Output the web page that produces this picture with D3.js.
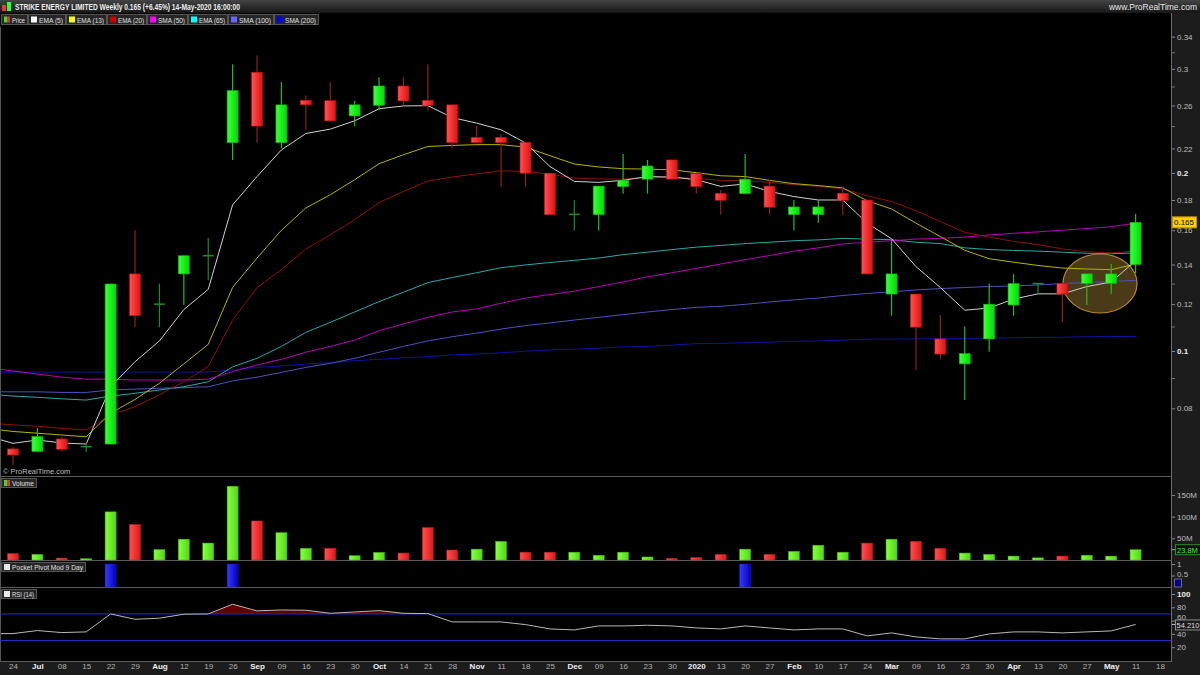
<!DOCTYPE html>
<html><head><meta charset="utf-8">
<script src="https://cdn.jsdelivr.net/npm/d3@7"></script>
<style>body{margin:0;background:#000;} svg{display:block;font-family:"Liberation Sans",Arial,sans-serif;}</style>
</head><body><svg id="c" width="1200" height="675"></svg>
<script>
// ---------------- DATA ----------------
const weekLabels = ["24","Jul","08","15","22","29","Aug","12","19","26","Sep","09","16","23","30","Oct","14","21","28","Nov","11","18","25","Dec","09","16","23","30","2020","13","20","27","Feb","10","17","24","Mar","09","16","23","30","Apr","13","20","27","May","11","18"];
const monthLabels = ["Jul","Aug","Sep","Oct","Nov","Dec","2020","Feb","Mar","Apr","May"];
const openP  = [0.0683,0.0676,0.0710,0.0689,0.0696,0.135,0.120,0.135,0.1449,0.225,0.296,0.225,0.2654,0.2650,0.2497,0.2603,0.2806,0.2654,0.2607,0.2298,0.2298,0.2254,0.1998,0.1702,0.170,0.1896,0.1952,0.2104,0.1995,0.1848,0.1845,0.190,0.170,0.170,0.1848,0.180,0.1248,0.1248,0.1048,0.0951,0.1048,0.1196,0.130,0.130,0.130,0.130,0.140];
const highP  = [0.0689,0.0741,0.0716,0.0699,0.130,0.160,0.130,0.145,0.1553,0.3054,0.3158,0.285,0.2703,0.285,0.265,0.2903,0.2903,0.3054,0.2607,0.240,0.2325,0.2254,0.1998,0.180,0.190,0.2154,0.2104,0.2104,0.1995,0.1872,0.2154,0.1946,0.180,0.180,0.190,0.180,0.154,0.1248,0.115,0.110,0.130,0.135,0.130,0.130,0.135,0.1403,0.1705];
const lowP   = [0.0642,0.0676,0.0676,0.0675,0.0696,0.1097,0.1097,0.1196,0.1318,0.2104,0.225,0.2202,0.2365,0.2449,0.240,0.2556,0.2603,0.2549,0.2202,0.225,0.1896,0.1896,0.170,0.1598,0.1598,0.1845,0.1845,0.1952,0.1845,0.170,0.1845,0.170,0.1598,0.1648,0.170,0.135,0.1147,0.0929,0.0968,0.0826,0.0997,0.1147,0.1248,0.1117,0.1196,0.1248,0.1353];
const closeP = [0.0667,0.0717,0.0682,0.0689,0.1298,0.1147,0.120,0.1449,0.1449,0.2756,0.240,0.2607,0.2607,0.2449,0.2607,0.2806,0.2647,0.2603,0.225,0.225,0.225,0.1998,0.170,0.1702,0.190,0.1944,0.2055,0.1952,0.1896,0.1798,0.1952,0.175,0.1752,0.1752,0.1798,0.135,0.135,0.1097,0.0988,0.099,0.120,0.130,0.130,0.1248,0.135,0.135,0.165];
const volumeM = [15,13,4.5,3,111,82,24,48,39,170,90,63,27,27,10,17.5,16,75,23,25,43,18,18,18,11,18,7,4,6,13,25,13,20,34,18,39,48,43,27,16,13,9,5,9,11,9,23.8];
const pocketPivot = [0,0,0,0,1,0,0,0,0,1,0,0,0,0,0,0,0,0,0,0,0,0,0,0,0,0,0,0,0,0,1,0,0,0,0,0,0,0,0,0,0,0,0,0,0,0,0];
const rsi14 = [40.5,45,42,43,70,62,63.6,69.6,70,84.6,74.6,76,75.6,71,73,75,71,70.5,58,58,58,54,47.5,46,52,52,53,52,49,47.5,52,49,46,47.5,47.5,37,41.5,35.5,32.5,32.5,40,43,43,41.5,43,44.5,54.21];
const rsiPrior = 40.3;
const ema5   = [0.0698,0.0707,0.0699,0.0696,0.0870,0.0959,0.1040,0.1175,0.1271,0.1767,0.1972,0.2188,0.2332,0.2372,0.245,0.2568,0.2596,0.2599,0.2481,0.2428,0.2366,0.2248,0.2051,0.1935,0.1928,0.1943,0.1972,0.1968,0.1948,0.1898,0.1916,0.1861,0.1824,0.18,0.18,0.1645,0.1548,0.1389,0.128,0.1172,0.1182,0.1224,0.1249,0.1249,0.1285,0.1308,0.1421];
const ema13  = [0.0731,0.0726,0.0721,0.0716,0.0785,0.0828,0.0882,0.0951,0.1026,0.1281,0.1436,0.16,0.1745,0.1837,0.1948,0.2073,0.2147,0.2217,0.2226,0.2233,0.2233,0.2211,0.2139,0.2071,0.2047,0.2033,0.203,0.2024,0.2002,0.1978,0.1972,0.1943,0.1918,0.1904,0.1887,0.1795,0.1738,0.1645,0.1561,0.148,0.1432,0.1413,0.1395,0.1381,0.1376,0.1372,0.1403];
const ema20  = [0.075,0.0746,0.074,0.0735,0.0779,0.0805,0.0843,0.0887,0.0941,0.1128,0.128,0.1373,0.1488,0.1572,0.1667,0.1782,0.1861,0.1938,0.1968,0.1993,0.2016,0.2011,0.199,0.1961,0.1953,0.1953,0.1965,0.1965,0.1958,0.1943,0.1941,0.1928,0.1911,0.1898,0.1879,0.183,0.1789,0.1727,0.1655,0.1587,0.1558,0.1532,0.1513,0.1488,0.1471,0.1465,0.1475];
const sma50  = [0.0925,0.0914,0.0903,0.0896,0.0896,0.0893,0.0893,0.0893,0.0896,0.0923,0.0947,0.0968,0.0995,0.1018,0.1043,0.1082,0.1111,0.114,0.1164,0.1178,0.1204,0.1229,0.1246,0.1262,0.1285,0.1308,0.1335,0.1356,0.1379,0.1403,0.1427,0.145,0.1475,0.1494,0.1517,0.1527,0.1536,0.1546,0.155,0.1558,0.1571,0.1581,0.159,0.16,0.1611,0.1622,0.1645];
const ema65  = [0.0839,0.0835,0.083,0.0826,0.0839,0.0848,0.0859,0.087,0.0887,0.094,0.0972,0.1018,0.1075,0.1118,0.1164,0.1212,0.1257,0.1305,0.1331,0.1356,0.1383,0.1398,0.1411,0.1423,0.1436,0.1455,0.1469,0.1484,0.1498,0.1508,0.1519,0.1527,0.1536,0.1541,0.155,0.1546,0.1542,0.1527,0.1519,0.1494,0.1484,0.1479,0.1475,0.1469,0.1463,0.146,0.1465];
const sma100 = [0.0853,0.0853,0.0851,0.0851,0.0859,0.0862,0.0865,0.0867,0.087,0.089,0.0903,0.092,0.0938,0.0953,0.0972,0.0995,0.1018,0.104,0.1057,0.1072,0.1089,0.1104,0.1115,0.1128,0.114,0.1152,0.1164,0.1175,0.1185,0.119,0.1199,0.121,0.122,0.1229,0.1241,0.1251,0.1259,0.1268,0.1275,0.128,0.1285,0.1288,0.1293,0.13,0.1305,0.1311,0.1316];
const sma200 = [0.0921,0.0921,0.0921,0.0921,0.0921,0.0921,0.0921,0.0921,0.0921,0.0929,0.0938,0.0943,0.0951,0.0955,0.0963,0.0968,0.0974,0.0978,0.0985,0.0988,0.0993,0.0999,0.1004,0.1007,0.1011,0.1016,0.1018,0.1023,0.1029,0.103,0.1033,0.1035,0.1038,0.104,0.1043,0.1047,0.1047,0.1048,0.105,0.105,0.1051,0.1053,0.1054,0.1055,0.1057,0.1058,0.1058];
// values of each average for the week before the first candle (17 Jun 2019), partly off-screen at left
const maPrior = {"EMA (5)":0.0717,"EMA (13)":0.0739,"EMA (20)":0.0755,"SMA (50)":0.0937,"EMA (65)":0.0845,"SMA (100)":0.0853,"SMA (200)":0.0921};
const priceTicks = [0.08,0.1,0.12,0.14,0.16,0.18,0.2,0.22,0.26,0.3,0.34];
const priceMinor = [0.09,0.11,0.13,0.24,0.28,0.32];
const volTicks = [50,100,150];
const rsiTicks = [20,40,60,80,100];
const ppTicks = [0.5,1];
const legendItems = [
  {name:"EMA (5)", color:"#ffffff", line:"#d0d0d0", data:ema5},
  {name:"EMA (13)", color:"#ffff00", line:"#b4b400", data:ema13},
  {name:"EMA (20)", color:"#cc0000", line:"#8e1010", data:ema20},
  {name:"SMA (50)", color:"#ff00ff", line:"#b800b8", data:sma50},
  {name:"EMA (65)", color:"#00ffff", line:"#2aa8a8", data:ema65},
  {name:"SMA (100)", color:"#6666ff", line:"#5050c0", data:sma100},
  {name:"SMA (200)", color:"#0000ff", line:"#1010a8", data:sma200}
];
const titleText = "STRIKE ENERGY LIMITED Weekly 0.165 (+6.45%) 14-May-2020 16:00:00";

// ---------------- LAYOUT ----------------
const W = 1200, H = 675, plotR = 1171;
const svg = d3.select("#c");
const defs = svg.append("defs");
function grad(id, c1, c2, vertical) {
  const g = defs.append("linearGradient").attr("id", id)
    .attr("x1",0).attr("y1",0).attr("x2",vertical?0:1).attr("y2",vertical?1:0);
  g.append("stop").attr("offset","0%").attr("stop-color",c1);
  g.append("stop").attr("offset","100%").attr("stop-color",c2);
}
grad("gUp","#3dff3d","#00dc00");
grad("gDn","#ff5252","#e01010");
grad("vUp","#86ff44","#52d814");
grad("vDn","#ff5050","#dd1818");
grad("pp","#3a3aff","#0000c0");
grad("title","#444444","#161616",true);
grad("rsiFill","#7a0000","#200000",true);
defs.append("clipPath").attr("id","mainClip").append("rect").attr("x",1).attr("y",27).attr("width",plotR-1).attr("height",449);
defs.append("clipPath").attr("id","rsiClip").append("rect").attr("x",1).attr("y",588).attr("width",plotR-1).attr("height",73);

svg.append("rect").attr("width",W).attr("height",H).attr("fill","#000");

const n = closeP.length;
const idx = d3.range(n);
const x = d3.scaleLinear().domain([0, weekLabels.length - 1]).range([13, 1160]);
const y = d3.scaleLog().domain([0.0617, 0.353]).range([475, 27]);
const yV = d3.scaleLinear().domain([0, 189]).range([560, 478]);
const yP = d3.scaleLinear().domain([0, 1]).range([587, 564]);
const yR = d3.scaleLinear().domain([0, 100]).range([660.5, 594]);

// title bar
svg.append("rect").attr("x",0).attr("y",0).attr("width",W).attr("height",13).attr("fill","url(#title)");
svg.append("rect").attr("x",2).attr("y",5).attr("width",4).attr("height",6).attr("fill","#ff3030");
svg.append("rect").attr("x",7).attr("y",2).attr("width",4).attr("height",9).attr("fill","#30ff30");
svg.append("text").attr("x",15).attr("y",10).attr("fill","#eeeeee").attr("font-size",8.5).attr("font-weight","bold")
  .attr("textLength",225).attr("lengthAdjust","spacingAndGlyphs").text(titleText);
svg.append("text").attr("x",1197).attr("y",10).attr("fill","#e6e6e6").attr("font-size",8.5).attr("text-anchor","end")
  .text("www.ProRealTime.com");

// right axis strip & bottom strip
svg.append("rect").attr("x",plotR).attr("y",13).attr("width",W-plotR).attr("height",H-13).attr("fill","#1c1c1c");
svg.append("rect").attr("x",0).attr("y",662).attr("width",W).attr("height",13).attr("fill","#1c1c1c");
svg.append("line").attr("x1",plotR+0.5).attr("x2",plotR+0.5).attr("y1",13).attr("y2",662).attr("stroke","#6a6a6a");
svg.append("line").attr("x1",0.5).attr("x2",0.5).attr("y1",27).attr("y2",662).attr("stroke","#555");
[476.5, 560.5, 587.5, 661.5].forEach(v => svg.append("line").attr("x1",0).attr("x2",plotR).attr("y1",v).attr("y2",v).attr("stroke","#5a5a5a"));

// legend row
let lx = 1;
const legAll = [{name:"Price", color:null}].concat(legendItems);
const legendW = [26,37,40,39,40,39,45,44];
legAll.forEach((d,i) => {
  const g = svg.append("g").attr("transform",`translate(${lx},14)`);
  g.append("rect").attr("x",0.5).attr("y",0.5).attr("width",legendW[i]).attr("height",10).attr("fill","#262626").attr("stroke","#555");
  if (d.color) g.append("rect").attr("x",3).attr("y",2.5).attr("width",6).attr("height",6).attr("fill",d.color);
  else { g.append("rect").attr("x",3).attr("y",2.5).attr("width",3).attr("height",6).attr("fill","#30e030");
         g.append("rect").attr("x",6).attr("y",2.5).attr("width",3).attr("height",6).attr("fill","#e03030"); }
  g.append("text").attr("x",11).attr("y",8.5).attr("fill","#e0e0e0").attr("font-size",7.5)
    .attr("textLength",legendW[i]-13).attr("lengthAdjust","spacingAndGlyphs").text(d.name);
  lx += legendW[i] + 1;
});

// highlight ellipse (behind)
svg.append("ellipse").attr("cx",1100).attr("cy",283.5).attr("rx",37).attr("ry",29.5)
  .attr("fill","#4a3a18").attr("stroke","#b9862c").attr("stroke-width",1.2);

// moving averages
const maG = svg.append("g").attr("clip-path","url(#mainClip)");
legendItems.slice().reverse().forEach(d => {
  const pts = [[-1, maPrior[d.name]]].concat(idx.map(i => [i, d.data[i]]));
  maG.append("path").datum(pts).attr("fill","none").attr("stroke",d.line).attr("stroke-width",1)
    .attr("d", d3.line().x(p => x(p[0])).y(p => y(p[1])));
});

// candles
const bw = 11;
idx.forEach(i => {
  const o = openP[i], c = closeP[i], h = highP[i], l = lowP[i];
  const up = c >= o, doji = Math.abs(y(o) - y(c)) < 1;
  const wick = doji ? "#1e8c1e" : (up ? "#2ab82a" : "#8a2222");
  svg.append("line").attr("x1",x(i)).attr("x2",x(i)).attr("y1",y(h)).attr("y2",y(l)).attr("stroke",wick).attr("stroke-width",1.2);
  if (doji) {
    svg.append("line").attr("x1",x(i)-bw/2).attr("x2",x(i)+bw/2).attr("y1",y(c)).attr("y2",y(c)).attr("stroke",wick).attr("stroke-width",1.5);
  } else {
    svg.append("rect").attr("x",x(i)-bw/2).attr("y",y(Math.max(o,c))).attr("width",bw)
      .attr("height",Math.abs(y(o)-y(c))).attr("fill",up?"url(#gUp)":"url(#gDn)")
      .attr("stroke",up?"#10b010":"#b81010").attr("stroke-width",0.6);
  }
});
svg.append("text").attr("x",3).attr("y",474).attr("fill","#bbbbbb").attr("font-size",7.5).text("© ProRealTime.com");

// price axis
const pa = svg.append("g").attr("transform",`translate(${plotR+1},0)`)
  .call(d3.axisRight(y).tickValues(priceTicks).tickSize(3).tickFormat(d => String(d)));
pa.select(".domain").remove();
pa.selectAll("line").attr("stroke","#888");
pa.selectAll("text").attr("font-size",8).attr("x",5)
  .attr("font-weight", d => (d===0.2||d===0.1)?"bold":"normal").attr("fill", d => (d===0.2||d===0.1)?"#eeeeee":"#bdbdbd");
const pm = svg.append("g").attr("transform",`translate(${plotR+1},0)`)
  .call(d3.axisRight(y).tickValues(priceMinor).tickSize(3).tickFormat(""));
pm.select(".domain").remove(); pm.selectAll("line").attr("stroke","#777");
// last price label
const lp = closeP[n-1];
svg.append("rect").attr("x",plotR+1.5).attr("y",y(lp)-5.5).attr("width",24).attr("height",11).attr("fill","#ffd000").attr("stroke","#c09000");
svg.append("text").attr("x",plotR+3).attr("y",y(lp)+3).attr("font-size",8).attr("fill","#000").text(lp.toFixed(3));

// volume: green when the close is not below the previous close
idx.forEach(i => {
  const up = i === 0 ? closeP[i] >= openP[i] : closeP[i] >= closeP[i-1];
  svg.append("rect").attr("x",x(i)-bw/2).attr("y",yV(volumeM[i])).attr("width",bw).attr("height",yV(0)-yV(volumeM[i]))
    .attr("fill",up?"url(#vUp)":"url(#vDn)").attr("stroke",up?"#40b010":"#b02020").attr("stroke-width",0.5);
});
const va = svg.append("g").attr("transform",`translate(${plotR+1},0)`)
  .call(d3.axisRight(yV).tickValues(volTicks).tickSize(3).tickFormat(d => d+"M"));
va.select(".domain").remove(); va.selectAll("line").attr("stroke","#888");
va.selectAll("text").attr("fill","#bdbdbd").attr("font-size",8).attr("x",5);
const lv = volumeM[n-1];
svg.append("rect").attr("x",plotR+4.5).attr("y",yV(lv)-5).attr("width",25).attr("height",10).attr("fill","#111").attr("stroke","#2c8c2c");
svg.append("text").attr("x",plotR+6).attr("y",yV(lv)+3).attr("font-size",7.5).attr("fill","#33ee33").text(lv.toFixed(1)+"M");
svg.append("line").attr("x1",plotR+1).attr("x2",plotR+4).attr("y1",yV(lv)).attr("y2",yV(lv)).attr("stroke","#33ee33");

// pocket pivot
idx.filter(i => pocketPivot[i] > 0).forEach(i => {
  svg.append("rect").attr("x",x(i)-bw/2).attr("y",yP(pocketPivot[i])).attr("width",bw).attr("height",yP(0)-yP(pocketPivot[i]))
    .attr("fill","url(#pp)").attr("stroke","#2020a0").attr("stroke-width",0.5);
});
const ppa = svg.append("g").attr("transform",`translate(${plotR+1},0)`)
  .call(d3.axisRight(yP).tickValues(ppTicks).tickSize(3).tickFormat(d => String(d)));
ppa.select(".domain").remove(); ppa.selectAll("line").attr("stroke","#888");
ppa.selectAll("text").attr("fill","#bdbdbd").attr("font-size",8).attr("x",5);
ppa.selectAll(".tick").filter(d => d === 0.5).select("text").attr("dy","0.1em");
svg.append("rect").attr("x",plotR+3.5).attr("y",579).attr("width",7).attr("height",8).attr("fill","#0000b0").attr("stroke","#6a6a6a");
svg.append("text").attr("x",plotR+5).attr("y",585.5).attr("font-size",7).attr("fill","#000").text(String(pocketPivot[n-1]));

// RSI
const clip = defs.append("clipPath").attr("id","above70");
clip.append("rect").attr("x",1).attr("y",588).attr("width",plotR-1).attr("height",yR(70)-588);
const rsiPts = [[-1, rsiPrior]].concat(idx.map(i => [i, rsi14[i]]));
svg.append("path").datum(rsiPts).attr("clip-path","url(#above70)").attr("fill","url(#rsiFill)").attr("opacity",0.9)
  .attr("d", d3.area().x(p => x(p[0])).y0(yR(70)).y1(p => yR(p[1])));
[70,30].forEach(v => svg.append("line").attr("x1",0).attr("x2",plotR).attr("y1",yR(v)).attr("y2",yR(v)).attr("stroke","#2a2ad0").attr("stroke-width",1));
svg.append("path").datum(rsiPts).attr("clip-path","url(#rsiClip)").attr("fill","none").attr("stroke","#b8b8b8").attr("stroke-width",1)
  .attr("d", d3.line().x(p => x(p[0])).y(p => yR(p[1])));
const ra = svg.append("g").attr("transform",`translate(${plotR+1},0)`)
  .call(d3.axisRight(yR).tickValues(rsiTicks).tickSize(3).tickFormat(d => String(d)));
ra.select(".domain").remove(); ra.selectAll("line").attr("stroke","#888");
ra.selectAll("text").attr("fill", d => d===100?"#eeeeee":"#bdbdbd").attr("font-weight", d => d===100?"bold":"normal").attr("font-size",8).attr("x",5);
ra.selectAll(".tick").filter(d => d === 60).select("text").attr("dy","-0.1em");
const lr = rsi14[n-1];
svg.append("rect").attr("x",plotR+4.5).attr("y",yR(lr)-4.5).attr("width",26).attr("height",10).attr("fill","#1c1c1c").attr("stroke","#8a8a8a");
svg.append("text").attr("x",plotR+5.5).attr("y",yR(lr)+3.5).attr("font-size",7.5).attr("fill","#dddddd").text(lr.toFixed(3));
svg.append("line").attr("x1",plotR+1).attr("x2",plotR+4).attr("y1",yR(lr)).attr("y2",yR(lr)).attr("stroke","#bbb");

// panel labels
function panelLabel(yy, w, text, icon) {
  const g = svg.append("g").attr("transform",`translate(1,${yy})`);
  g.append("rect").attr("x",0.5).attr("y",0.5).attr("width",w).attr("height",9).attr("fill","#262626").attr("stroke","#555");
  if (icon === "vol") {
    g.append("rect").attr("x",3).attr("y",2).attr("width",3).attr("height",6).attr("fill","#30e030");
    g.append("rect").attr("x",6).attr("y",2).attr("width",3).attr("height",6).attr("fill","#e03030");
  } else g.append("rect").attr("x",3).attr("y",2).attr("width",6).attr("height",6).attr("fill","#e8e8e8");
  g.append("text").attr("x",11).attr("y",8).attr("fill","#e0e0e0").attr("font-size",7.5)
    .attr("textLength",w-13).attr("lengthAdjust","spacingAndGlyphs").text(text);
}
panelLabel(478, 35, "Volume", "vol");
panelLabel(562, 84, "Pocket Pivot Mod 9 Day", "w");
panelLabel(589, 35, "RSI (14)", "w");

// x axis
const xa = svg.append("g").attr("transform","translate(0,662)")
  .call(d3.axisBottom(x).tickValues(d3.range(weekLabels.length)).tickSize(0).tickFormat(i => weekLabels[i]));
xa.select(".domain").remove();
xa.selectAll("text").attr("dy","0.55em").attr("y",3).attr("font-size",8)
  .attr("font-weight", i => monthLabels.includes(weekLabels[i]) ? "bold" : "normal")
  .attr("fill", i => monthLabels.includes(weekLabels[i]) ? "#f0f0f0" : "#b0b0b0");
</script></body></html>
